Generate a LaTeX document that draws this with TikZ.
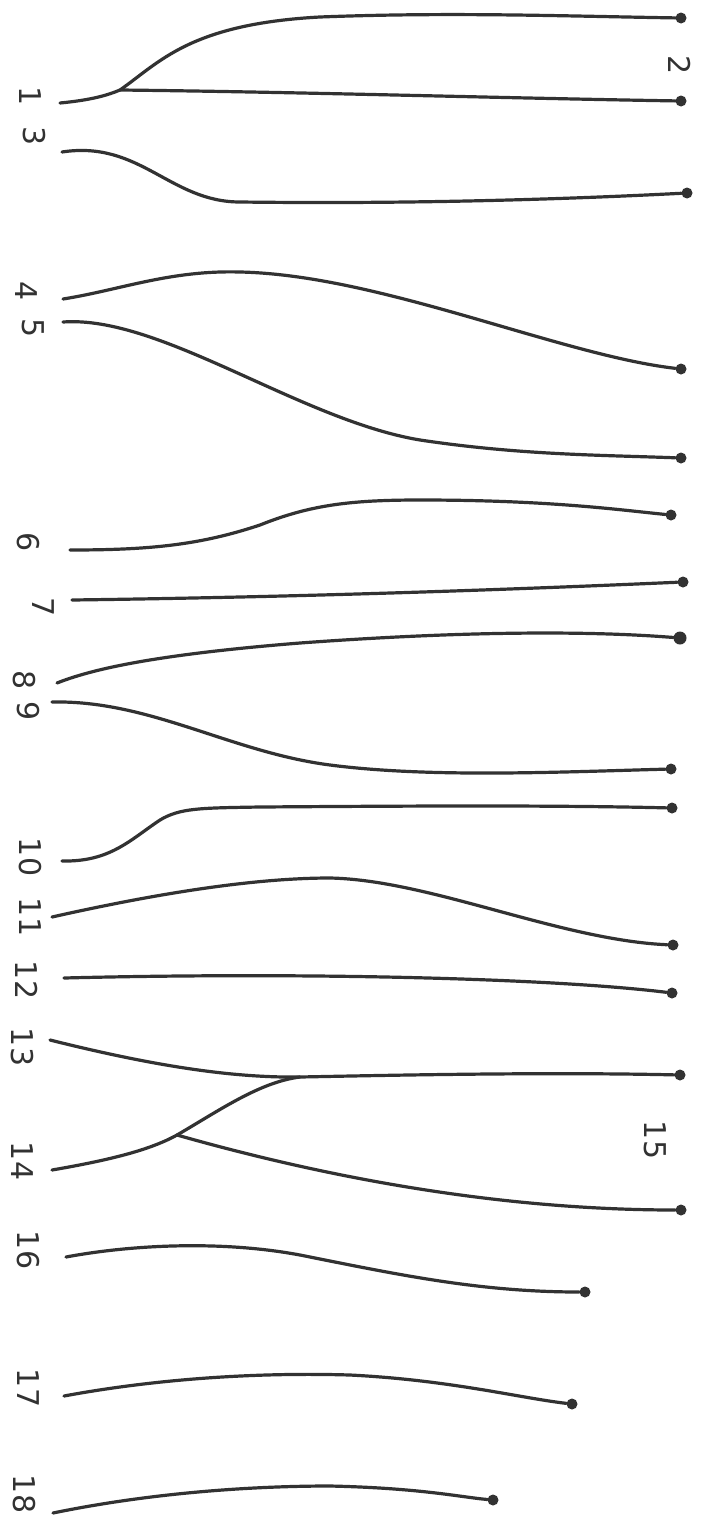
\documentclass[tikz,border=0pt]{standalone}
\usepackage{fontspec}
\setmainfont{DejaVu Sans}
\definecolor{ink}{RGB}{50,50,50}
\tikzset{
  wire/.style={line width=3.2pt, draw=ink, line cap=round},
  enddot/.style={circle, fill=ink, inner sep=0pt, minimum size=11pt},
  bigdot/.style={circle, fill=ink, inner sep=0pt, minimum size=13pt},
  lbl/.style={text=ink, rotate=-90, inner sep=0pt, font=\fontsize{30}{30}\selectfont}
}
\begin{document}
\begin{tikzpicture}[x=1pt,y=-1pt]
\useasboundingbox[fill=white] (0,0) rectangle (702,1518);
% start coordinates and branch points
\coordinate (s1) at (60,103);
\coordinate (b1) at (120,90);
\coordinate (s3) at (62,152);
\coordinate (s4) at (63,299);
\coordinate (s5) at (63,322);
\coordinate (s6) at (70,550);
\coordinate (s7) at (72,600);
\coordinate (s8) at (57,683);
\coordinate (s9) at (52,702);
\coordinate (s10) at (62,861);
\coordinate (s11) at (52,917);
\coordinate (s12) at (64,978);
\coordinate (s13) at (50,1040);
\coordinate (b13) at (300,1077);
\coordinate (s14) at (52,1170);
\coordinate (b14) at (177,1135);
\coordinate (s16) at (66,1257);
\coordinate (s17) at (64,1396);
\coordinate (s18) at (53,1513);
% end dots
\node[enddot] (e1) at (681,18) {};
\node[enddot] (e2) at (681,101) {};
\node[enddot] (e3) at (687,193) {};
\node[enddot] (e4) at (681,369) {};
\node[enddot] (e5) at (681,458) {};
\node[enddot] (e6) at (671,515) {};
\node[enddot] (e7) at (683,582) {};
\node[bigdot] (e8) at (680,638) {};
\node[enddot] (e9) at (671,769) {};
\node[enddot] (e10) at (672,808) {};
\node[enddot] (e11) at (673,945) {};
\node[enddot] (e12) at (672,993) {};
\node[enddot] (e13) at (680,1075) {};
\node[enddot] (e14) at (681,1210) {};
\node[enddot] (e16) at (585,1292) {};
\node[enddot] (e17) at (572,1404) {};
\node[enddot] (e18) at (493,1500) {};
% labels
\node[lbl] (l1) at (30,96) {1};
\node[lbl] (l2) at (680,65) {2};
\node[lbl] (l3) at (34,136) {3};
\node[lbl] (l4) at (26,291) {4};
\node[lbl] (l5) at (33,328) {5};
\node[lbl] (l6) at (28,542) {6};
\node[lbl] (l7) at (43,607) {7};
\node[lbl] (l8) at (24,680) {8};
\node[lbl] (l9) at (28,711) {9};
\node[lbl] (l10) at (30,857) {10};
\node[lbl] (l11) at (30,917) {11};
\node[lbl] (l12) at (27,980) {12};
\node[lbl] (l13) at (22,1047) {13};
\node[lbl] (l14) at (22,1161) {14};
\node[lbl] (l15) at (655,1140) {15};
\node[lbl] (l16) at (28,1250) {16};
\node[lbl] (l17) at (28,1388) {17};
\node[lbl] (l18) at (24,1494) {18};
% wires
\draw[wire] (s1) .. controls (92,100) and (108,95) .. (b1)
  .. controls (160,62) and (190,24) .. (320,17)
  .. controls (450,12) and (560,16) .. (e1);
\draw[wire] (b1) .. controls (300,92) and (500,98) .. (e2);
\draw[wire] (s3) .. controls (140,140) and (170,202) .. (240,202)
  .. controls (400,204) and (550,200) .. (e3);
\draw[wire] (s4) .. controls (120,290) and (170,270) .. (240,272)
  .. controls (380,275) and (560,355) .. (e4);
\draw[wire] (s5) .. controls (160,315) and (300,420) .. (420,440)
  .. controls (520,455) and (600,455) .. (e5);
\draw[wire] (s6) .. controls (150,550) and (200,545) .. (260,525)
  .. controls (310,505) and (350,500) .. (420,500)
  .. controls (550,500) and (620,510) .. (e6);
\draw[wire] (s7) .. controls (300,597) and (500,590) .. (e7);
\draw[wire] (s8) .. controls (90,670) and (150,655) .. (300,643)
  .. controls (450,632) and (580,630) .. (e8);
\draw[wire] (s9) .. controls (150,700) and (230,752) .. (330,765)
  .. controls (430,778) and (560,772) .. (e9);
\draw[wire] (s10) .. controls (110,862) and (130,840) .. (160,820)
  .. controls (180,808) and (200,808) .. (260,807)
  .. controls (400,806) and (550,805) .. (e10);
\draw[wire] (s11) .. controls (150,895) and (250,878) .. (330,878)
  .. controls (430,880) and (560,940) .. (e11);
\draw[wire] (s12) .. controls (300,972) and (550,978) .. (e12);
\draw[wire] (s13) .. controls (150,1065) and (230,1078) .. (b13)
  .. controls (400,1075) and (550,1072) .. (e13);
\draw[wire] (s14) .. controls (110,1160) and (150,1150) .. (b14);
\draw[wire] (b14) .. controls (220,1110) and (260,1082) .. (b13);
\draw[wire] (b14) .. controls (300,1170) and (480,1210) .. (e14);
\draw[wire] (s16) .. controls (130,1245) and (220,1240) .. (300,1255)
  .. controls (400,1275) and (480,1292) .. (e16);
\draw[wire] (s17) .. controls (150,1380) and (250,1372) .. (350,1375)
  .. controls (450,1380) and (520,1398) .. (e17);
\draw[wire] (s18) .. controls (150,1493) and (250,1486) .. (330,1486)
  .. controls (420,1488) and (460,1497) .. (e18);
\end{tikzpicture}
\end{document}
